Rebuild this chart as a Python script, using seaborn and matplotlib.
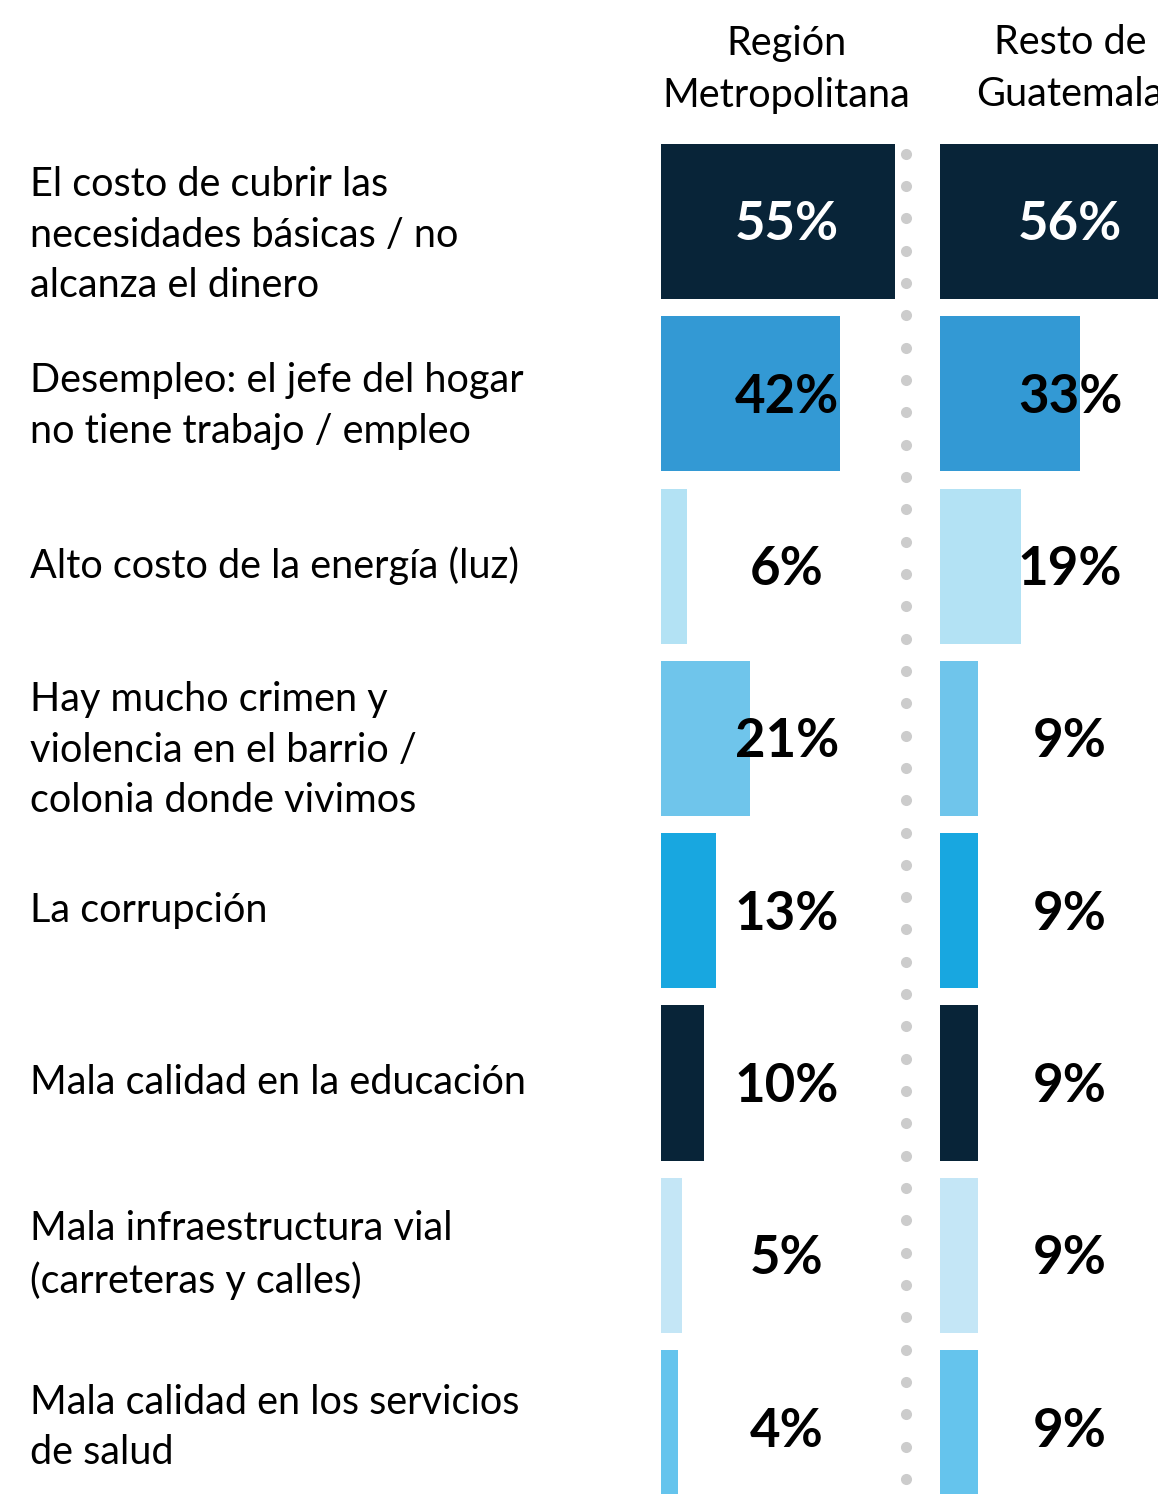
import numpy as np
import pandas as pd
import seaborn as sns
import matplotlib.pyplot as plt
from matplotlib.transforms import blended_transform_factory

# data
categories = [
    "El costo de cubrir las\nnecesidades básicas / no\nalcanza el dinero",
    "Desempleo: el jefe del hogar\nno tiene trabajo / empleo",
    "Alto costo de la energía (luz)",
    "Hay mucho crimen y\nviolencia en el barrio /\ncolonia donde vivimos",
    "La corrupción",
    "Mala calidad en la educación",
    "Mala infraestructura vial\n(carreteras y calles)",
    "Mala calidad en los servicios\nde salud",
]
metro = [55, 42, 6, 21, 13, 10, 5, 4]
resto = [56, 33, 19, 9, 9, 9, 9, 9]
headers = ["Región\nMetropolitana", "Resto de\nGuatemala"]
bar_colors = ["#082438", "#3399d4", "#b3e2f4", "#6fc5eb",
              "#18a7e0", "#082438", "#c4e6f6", "#65c4ed"]

sns.set_style("white")
plt.rcParams["font.family"] = ["Lato", "DejaVu Sans"]

W, H = 1158, 1494
fig = plt.figure(figsize=(W / 100, H / 100), dpi=100)

row_h = 172.3
top = 144 + 77.5 - row_h / 2
ax_bottom = 1 - (top + 8 * row_h) / H
ax_height = 8 * row_h / H
scale_w = 425 / W  # width of 100 %

df = pd.DataFrame({"cat": categories, "metro": metro, "resto": resto})

axes = []
for col, x0, lab_x in [("metro", 661, 787), ("resto", 940, 1070)]:
    ax = fig.add_axes([x0 / W, ax_bottom, scale_w, ax_height])
    sns.barplot(data=df, x=col, y="cat", hue="cat", palette=bar_colors,
                orient="h", width=0.9, legend=False, ax=ax,
                saturation=1, linewidth=0)
    ax.set_xlim(0, 100)
    ax.set_ylim(7.5, -0.5)
    ax.axis("off")
    tr = blended_transform_factory(fig.transFigure, ax.transData)
    for i, v in enumerate(df[col]):
        ax.text(lab_x / W, i + 0.02, f"{v}%", transform=tr, ha="center",
                va="center", fontsize=38, fontweight="bold",
                color="white" if i == 0 else "black")
    axes.append(ax)

# category labels
tr = blended_transform_factory(fig.transFigure, axes[0].transData)
offsets = [0.08, 0.07, 0, 0.07, 0, 0, 0, 0]
for i, c in enumerate(categories):
    fig.text(30 / W, i + offsets[i], c, transform=tr, ha="left", va="center",
             fontsize=28.5, linespacing=1.45, color="black")

# headers
for h, x in zip(headers, [786, 1070]):
    fig.text(x / W, 1 - 69 / H, h, ha="center", va="center", fontsize=28.5,
             linespacing=1.5, color="black")

# dotted separator
ov = fig.add_axes([0, 0, 1, 1], facecolor="none")
ov.set_xlim(0, W)
ov.set_ylim(H, 0)
ov.axis("off")
dots_y = np.linspace(153.7, 1479, 42)
ov.plot(np.full_like(dots_y, 906), dots_y, "o", color="#cccccc",
        markersize=8, markeredgewidth=0)

fig.savefig("out.png", dpi=100)
